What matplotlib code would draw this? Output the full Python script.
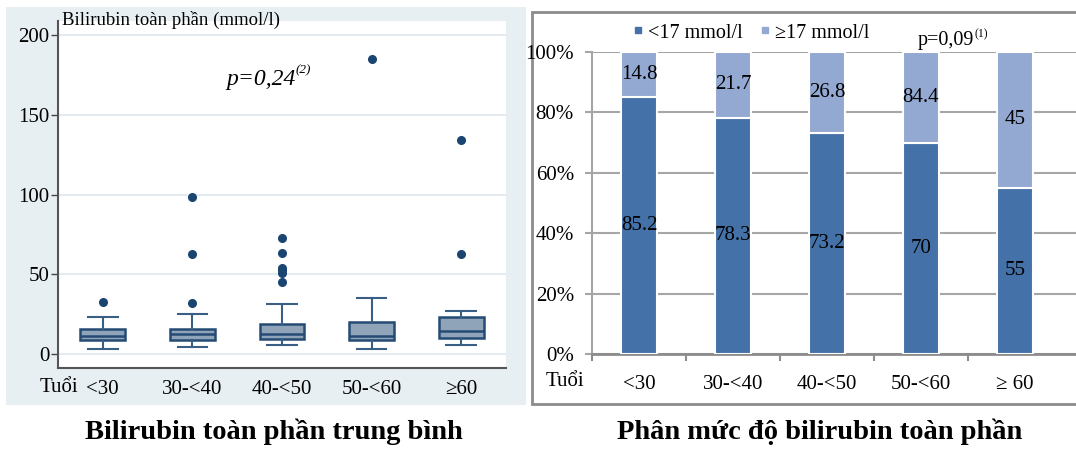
import matplotlib
matplotlib.use("Agg")
import matplotlib.pyplot as plt
from matplotlib.patches import Rectangle
from matplotlib.lines import Line2D

plt.rcParams['font.family'] = ['Liberation Serif', 'DejaVu Serif']

# Nhóm tuổi
nhom_tuoi = ["<30", "30-<40", "40-<50", "50-<60", "\u226560"]
nhom_tuoi_phai = ["<30", "30-<40", "40-<50", "50-<60", "\u2265 60"]

# Bilirubin toàn phần theo nhóm tuổi (mmol/l)
trung_vi = [11.1, 12.5, 12.5, 11.5, 14.6]
tu_phan_vi_1 = [8.8, 8.8, 9.4, 9.0, 10.2]
tu_phan_vi_3 = [15.5, 15.7, 18.8, 20.3, 23.4]
rau_duoi = [3.3, 4.2, 5.8, 3.3, 5.8]
rau_tren = [23.4, 25.1, 31.3, 35.3, 27.2]
ngoai_lai = [[32.8], [32.0, 62.5, 98.2], [45.1, 50.6, 52.5, 54.1, 63.1, 72.7],
             [185.2], [62.5, 134.4]]

# Phân mức độ bilirubin (%)
duoi_17 = [85.2, 78.3, 73.2, 70.0, 55.0]
tren_17 = [14.8, 21.7, 26.8, 30.0, 45.0]
nhan_duoi_17 = ["85.2", "78.3", "73.2", "70", "55"]
nhan_tren_17 = ["14.8", "21.7", "26.8", "84.4", "45"]

W, H = 1076, 450
fig = plt.figure(figsize=(W / 100, H / 100), dpi=100)


def fx(px):
    return px / W


def fy(py):
    return 1 - py / H


# nền hai khung
fig.add_artist(Rectangle((fx(6), fy(405)), fx(520), (398) / H, transform=fig.transFigure,
                         facecolor="#e8eff2", edgecolor="none", zorder=-2))
fig.add_artist(Rectangle((fx(532), fy(404)), fx(560), (392) / H, transform=fig.transFigure,
                         facecolor="white", edgecolor="#8c8c8c", lw=2, zorder=-2))

# ---- Biểu đồ hộp ----
ax1 = fig.add_axes([fx(58), fy(368), fx(506 - 58), (368 - 21) / H])
ax1.set_facecolor("white")
stats = []
for i in range(len(nhom_tuoi)):
    stats.append(dict(med=trung_vi[i], q1=tu_phan_vi_1[i], q3=tu_phan_vi_3[i],
                      whislo=rau_duoi[i], whishi=rau_tren[i], fliers=ngoai_lai[i]))
ax1.bxp(stats, positions=range(1, 6), widths=0.5, capwidths=0.33, patch_artist=True,
        boxprops=dict(facecolor="#8fa4b9", edgecolor="#254b74", lw=1.8),
        medianprops=dict(color="#254b74", lw=1.8),
        whiskerprops=dict(color="#3a5f85", lw=1.5),
        capprops=dict(color="#3a5f85", lw=1.5),
        flierprops=dict(marker="o", markerfacecolor="#1b4571", markeredgecolor="#1b4571",
                        markersize=5.5))
ax1.set_xlim(0.5, 5.5)
ax1.set_ylim(-8.8, 208.8)
ax1.set_yticks([0, 50, 100, 150, 200])
ax1.yaxis.grid(True, color="#e3ebf0", lw=1.5)
ax1.set_axisbelow(True)
ax1.set_xticks(range(1, 6))
ax1.set_xticklabels(nhom_tuoi)
ax1.tick_params(axis="x", length=0, pad=9, labelsize=15)
ax1.tick_params(axis="y", length=5, width=1, color="#444444", labelsize=15, pad=1)
for s in ["top", "right"]:
    ax1.spines[s].set_visible(False)
for s in ["left", "bottom"]:
    ax1.spines[s].set_color("#555555")
    ax1.spines[s].set_linewidth(1.5)
fig.text(fx(62), fy(20), "Bilirubin toàn phần (mmol/l)", fontsize=13.5, va="center", ha="left")
fig.text(fx(59), fy(388), "Tuổi", fontsize=15, va="center", ha="center")

# ---- Biểu đồ cột chồng ----
ax2 = fig.add_axes([fx(592), fy(354), fx(1090 - 592), (354 - 52) / H])
x = range(len(nhom_tuoi_phai))
b1 = ax2.bar(x, duoi_17, width=0.385, color="#4471a7", edgecolor="white", lw=1.5, zorder=3)
b2 = ax2.bar(x, tren_17, bottom=duoi_17, width=0.385, color="#94a9d2", edgecolor="white",
             lw=1.5, zorder=3)
for i in x:
    ax2.text(i, duoi_17[i] / 2, nhan_duoi_17[i], ha="center", va="center", fontsize=15, zorder=4)
    ax2.text(i, duoi_17[i] + tren_17[i] / 2, nhan_tren_17[i], ha="center", va="center",
             fontsize=15, zorder=4)
ax2.set_xlim(-0.5, 4.5 + 28 / 94)
ax2.set_ylim(0, 100)
ax2.set_yticks(range(0, 101, 20))
ax2.set_yticklabels([f"{v}%" for v in range(0, 101, 20)])
ax2.yaxis.grid(True, color="#a6a6a6", lw=1.5, zorder=0)
ax2.set_xticks([-0.5, 0.5, 1.5, 2.5, 3.5])
ax2.set_xticklabels([])
ax2.set_xticks(list(x), minor=True)
ax2.set_xticklabels(nhom_tuoi_phai, minor=True)
ax2.tick_params(axis="x", which="major", length=5, width=1.5, color="#8c8c8c")
ax2.tick_params(axis="x", which="minor", length=0, pad=15, labelsize=15)
ax2.tick_params(axis="y", length=5, width=1.5, color="#a6a6a6", labelsize=15, pad=8)
for s in ["top", "right"]:
    ax2.spines[s].set_visible(False)
ax2.spines["left"].set_color("#a6a6a6")
ax2.spines["left"].set_linewidth(1.5)
ax2.spines["bottom"].set_color("#8c8c8c")
ax2.spines["bottom"].set_linewidth(2)
fig.text(fx(565), fy(382), "Tuổi", fontsize=15, va="center", ha="center")

handles = [Line2D([], [], marker="s", ls="none", color="#4471a7", markersize=5),
           Line2D([], [], marker="s", ls="none", color="#94a9d2", markersize=5)]
fig.legend(handles, ["<17 mmol/l", "\u226517 mmol/l"], loc="center left",
           bbox_to_anchor=(fx(632), fy(33)), frameon=False, ncol=2, fontsize=14.5,
           handlelength=0.6, handletextpad=0.2, columnspacing=0.8, borderaxespad=0,
           borderpad=0)

# chú thích giá trị p
fig.canvas.draw()
r = fig.canvas.get_renderer()
t1 = fig.text(fx(226), fy(80), "p=0,24", fontsize=17, style="italic", va="center", ha="left")
e1 = t1.get_window_extent(r)
fig.text(e1.x1 / W, fy(70), "(2)", fontsize=9.5, style="italic", va="center", ha="left")
t2 = fig.text(fx(918), fy(40), "p=0,09", fontsize=14.5, va="center", ha="left")
e2 = t2.get_window_extent(r)
fig.text(e2.x1 / W, fy(34), "(1)", fontsize=8.5, va="center", ha="left")

# tiêu đề dưới
fig.text(fx(274), fy(432), "Bilirubin toàn phần trung bình", fontsize=20.5, weight="bold",
         ha="center", va="center")
fig.text(fx(820), fy(432), "Phân mức độ bilirubin toàn phần", fontsize=20.5, weight="bold",
         ha="center", va="center")

fig.savefig("out.png", dpi=100)
